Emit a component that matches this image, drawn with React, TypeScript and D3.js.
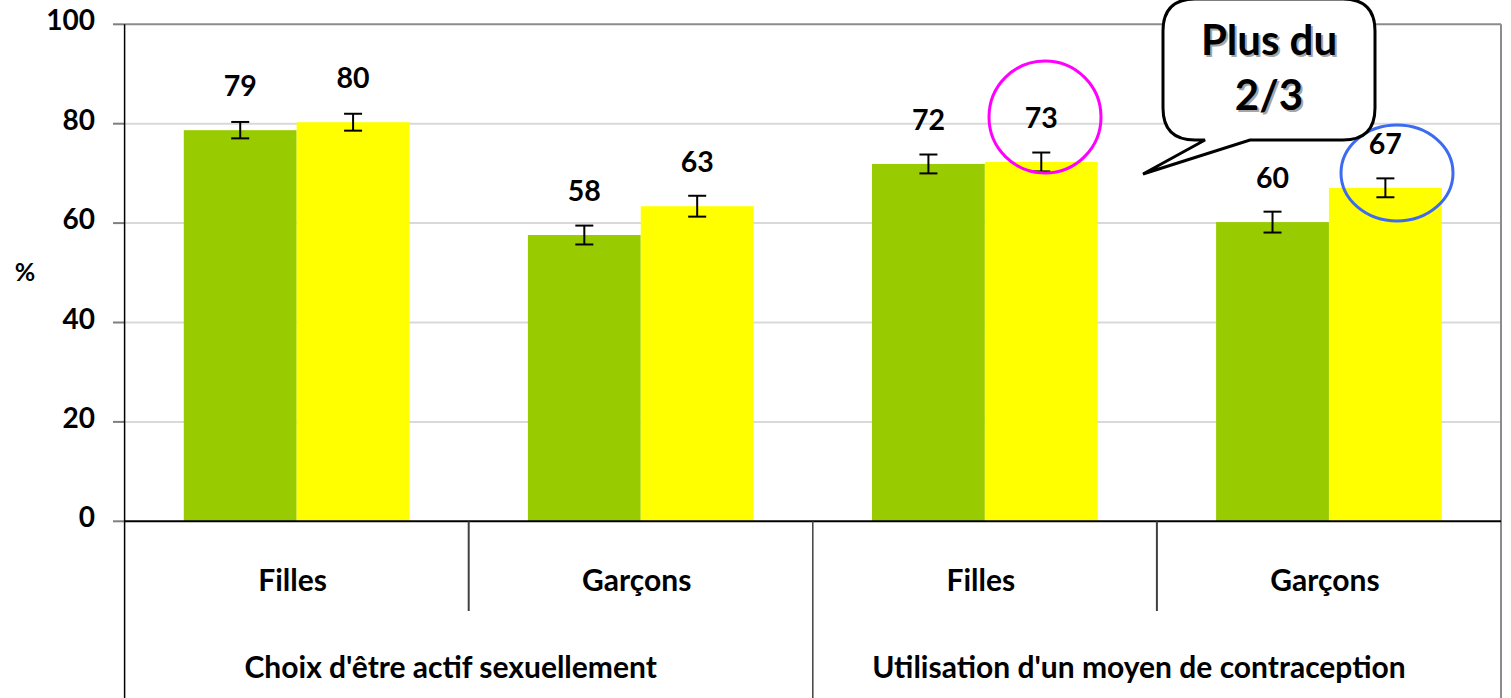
import React from "react";
import * as d3 from "d3";

const groups = ["Choix d'être actif sexuellement", "Utilisation d'un moyen de contraception"];
const categories = ["Filles", "Garçons", "Filles", "Garçons"];
const categoryGroup = [0, 0, 1, 1];
const seriesNames = ["A", "B"];
const greenValues = [78.7, 57.6, 71.9, 60.2];
const yellowValues = [80.3, 63.4, 72.3, 67.1];
const greenErrors = [1.65, 1.9, 1.9, 2.1];
const yellowErrors = [1.7, 2.1, 1.9, 1.9];
const greenLabels = ["79", "58", "72", "60"];
const yellowLabels = ["80", "63", "73", "67"];
const yTicks = [0, 20, 40, 60, 80, 100];
const calloutLines = ["Plus du", "2/3"];

const W = 1511;
const H = 698;
const left = 124.6;
const right = 1501;
const top = 24.3;
const bottom = 521.3;
const FONT = "Lato, 'Open Sans', sans-serif";

export default function App() {
  const keys = categories.map((_, i) => String(i));
  const x0 = d3.scaleBand<string>().domain(keys).range([left, right]).paddingInner(0).paddingOuter(0);
  const bw = x0.bandwidth();
  const x1 = d3.scaleBand<string>().domain(seriesNames).range([bw * 0.172, bw * 0.828]).padding(0);
  const y = d3.scaleLinear().domain([0, 100]).range([bottom, top]);

  const series = [
    { name: "A", values: greenValues, errors: greenErrors, labels: greenLabels, color: "#99CC00" },
    { name: "B", values: yellowValues, errors: yellowErrors, labels: yellowLabels, color: "#FFFF00" },
  ];

  // callout geometry
  const cx0 = 1163, cx1 = 1375, cy0 = -1, cy1 = 140, r = 32;
  const tip = [1143, 174];
  const calloutPath = [
    `M${cx0 + r},${cy0}`,
    `L${cx1 - r},${cy0}`,
    `Q${cx1},${cy0} ${cx1},${cy0 + r}`,
    `L${cx1},${cy1 - r}`,
    `Q${cx1},${cy1} ${cx1 - r},${cy1}`,
    `L1250,${cy1}`,
    `L${tip[0]},${tip[1]}`,
    `L1205,${cy1}`,
    `L${cx0 + r},${cy1}`,
    `Q${cx0},${cy1} ${cx0},${cy1 - r}`,
    `L${cx0},${cy0 + r}`,
    `Q${cx0},${cy0} ${cx0 + r},${cy0}`,
    "Z",
  ].join(" ");

  const groupBounds = groups.map((_, g) => {
    const idx = keys.filter((_, i) => categoryGroup[i] === g);
    const s = x0(idx[0])!;
    const e = x0(idx[idx.length - 1])! + bw;
    return [s, e];
  });

  return (
    <svg width={W} height={H} style={{ position: "absolute", left: 0, top: 0, background: "#fff" }} fontFamily={FONT}>
      <rect x={0} y={0} width={W} height={H} fill="#fff" />
      {/* gridlines */}
      {yTicks.filter((t) => t > 0 && t < 100).map((t) => (
        <line key={t} x1={left} x2={right} y1={y(t)} y2={y(t)} stroke="#D9D9D9" strokeWidth={2} />
      ))}
      {/* plot border top & right */}
      <line x1={left} x2={right} y1={top} y2={top} stroke="#8C8C8C" strokeWidth={2} />
      <line x1={right} x2={right} y1={top} y2={H} stroke="#8C8C8C" strokeWidth={2} />
      {/* y ticks */}
      {yTicks.map((t) => (
        <g key={t}>
          <line x1={113} x2={left} y1={y(t)} y2={y(t)} stroke="#7F7F7F" strokeWidth={2} />
          <text x={95} y={y(t) + 6} textAnchor="end" fontSize={28} fontWeight={700} fill="#000">{t}</text>
        </g>
      ))}
      <text x={25} y={281} textAnchor="middle" fontSize={25} fontWeight={700}>%</text>
      {/* bars */}
      {series.map((s) =>
        keys.map((k, i) => (
          <rect key={s.name + k} x={x0(k)! + x1(s.name)!} y={y(s.values[i])} width={x1.bandwidth()} height={bottom - y(s.values[i])} fill={s.color} />
        ))
      )}
      {/* error bars */}
      {series.map((s) =>
        keys.map((k, i) => {
          const cx = x0(k)! + x1(s.name)! + x1.bandwidth() / 2;
          const yt = y(s.values[i] + s.errors[i]);
          const yb = y(s.values[i] - s.errors[i]);
          return (
            <g key={"e" + s.name + k} stroke="#000" strokeWidth={2}>
              <line x1={cx} x2={cx} y1={yt} y2={yb} />
              <line x1={cx - 9} x2={cx + 9} y1={yt} y2={yt} />
              <line x1={cx - 9} x2={cx + 9} y1={yb} y2={yb} />
            </g>
          );
        })
      )}
      {/* value labels */}
      {series.map((s) =>
        keys.map((k, i) => (
          <text key={"l" + s.name + k} x={x0(k)! + x1(s.name)! + x1.bandwidth() / 2} y={y(s.values[i]) - 34} textAnchor="middle" fontSize={28.5} fontWeight={700}>
            {s.labels[i]}
          </text>
        ))
      )}
      {/* axes */}
      <line x1={left} x2={left} y1={top} y2={H} stroke="#000" strokeWidth={1.5} />
      <line x1={left} x2={right} y1={bottom} y2={bottom} stroke="#000" strokeWidth={2} />
      {keys.slice(1).map((k, i) => {
        const isGroupEdge = categoryGroup[i + 1] !== categoryGroup[i];
        return (
          <line key={"s" + k} x1={x0(k)!} x2={x0(k)!} y1={bottom} y2={isGroupEdge ? H : 611} stroke="#404040" strokeWidth={isGroupEdge ? 1.5 : 2} />
        );
      })}
      {/* category labels */}
      {keys.map((k, i) => (
        <text key={"c" + k} x={x0(k)! + bw / 2 - 4} y={591} textAnchor="middle" fontSize={30} fontWeight={700}>{categories[i]}</text>
      ))}
      {groups.map((g, gi) => (
        <text key={"g" + gi} x={(groupBounds[gi][0] + groupBounds[gi][1]) / 2 - 18} y={678} textAnchor="middle" fontSize={30} fontWeight={700}>{g}</text>
      ))}
      {/* circles */}
      <ellipse cx={1045} cy={117} rx={56} ry={56} fill="none" stroke="#FF00FF" strokeWidth={3} />
      <ellipse cx={1397} cy={173} rx={56} ry={48} fill="none" stroke="#3D6BF0" strokeWidth={3} />
      {/* callout */}
      <path d={calloutPath} fill="#fff" stroke="#000" strokeWidth={3} strokeLinejoin="miter" />
      {calloutLines.map((t, i) => (
        <g key={"t" + i}>
          <text x={1271} y={57 + i * 55} textAnchor="middle" fontSize={42} fontWeight={700} fill="#A6A6A6">{t}</text>
          <text x={1269} y={55 + i * 55} textAnchor="middle" fontSize={42} fontWeight={700} fill="#000">{t}</text>
        </g>
      ))}
    </svg>
  );
}
